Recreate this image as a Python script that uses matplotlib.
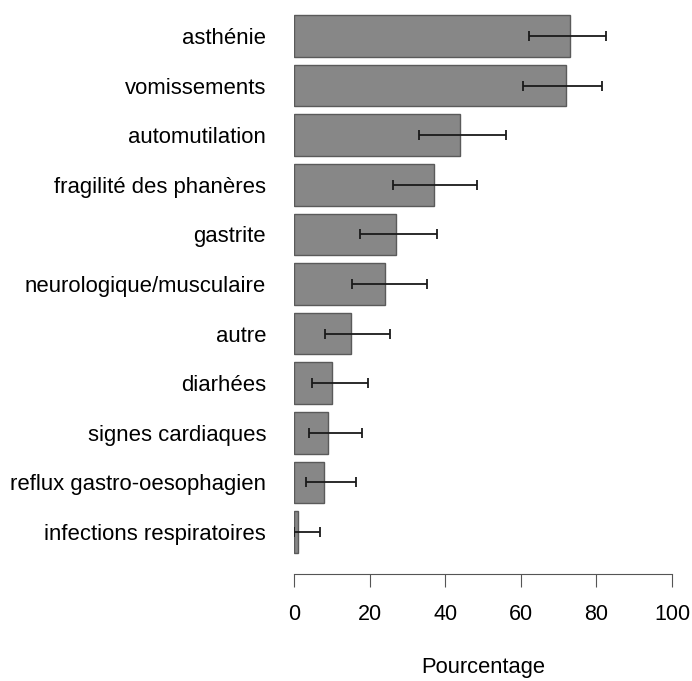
import matplotlib
matplotlib.use("Agg")
import matplotlib.pyplot as plt
import numpy as np

categories = ["asthénie", "vomissements", "automutilation", "fragilité des phanères",
              "gastrite", "neurologique/musculaire", "autre", "diarhées",
              "signes cardiaques", "reflux gastro-oesophagien", "infections respiratoires"]
pct = [73, 72, 44, 37, 27, 24, 15, 10, 9, 8, 1]
ci_low = [62.1, 60.7, 33.2, 26.3, 17.5, 15.3, 8.3, 4.7, 3.9, 3.1, 0.0]
ci_high = [82.5, 81.4, 56.0, 48.3, 37.9, 35.2, 25.5, 19.5, 18.0, 16.5, 6.8]

plt.rcParams['font.family'] = ['Liberation Sans', 'DejaVu Sans']

W, H = 692, 681
fig = plt.figure(figsize=(W / 100, H / 100), dpi=100)
left, right, top, bottom = 294, 672, 5, 574
ax = fig.add_axes([left / W, 1 - bottom / H, (right - left) / W, (bottom - top) / H])

n = len(categories)
pos = np.arange(n)[::-1]
pct = np.array(pct)
err = np.array([pct - np.array(ci_low), np.array(ci_high) - pct])

ax.barh(pos, pct, height=0.84, color="#878787", edgecolor="#5a5a5a", linewidth=1.0)
ax.errorbar(pct, pos, xerr=err, fmt="none", ecolor="#1a1a1a", elinewidth=1.3,
            capsize=3.6, capthick=1.3)

ax.set_xlim(0, 100)
ax.set_ylim(-0.847, 10.625)
ax.set_yticks(pos)
ax.set_yticklabels(categories, fontsize=15.9)
ax.tick_params(axis="y", length=0, pad=20)
ax.set_xticks([0, 20, 40, 60, 80, 100])
ax.tick_params(axis="x", direction="out", length=9.4, width=0.8, color="#555555",
               labelsize=15.5, pad=12)
for s in ["top", "right", "left"]:
    ax.spines[s].set_visible(False)
ax.spines["bottom"].set_bounds(0, 100)
ax.spines["bottom"].set_color("#555555")
ax.spines["bottom"].set_linewidth(0.8)

fig.text((left + right) / 2 / W, 1 - 668 / H, "Pourcentage", ha="center", va="center",
         fontsize=15.8)

fig.savefig("out.png", dpi=100)
